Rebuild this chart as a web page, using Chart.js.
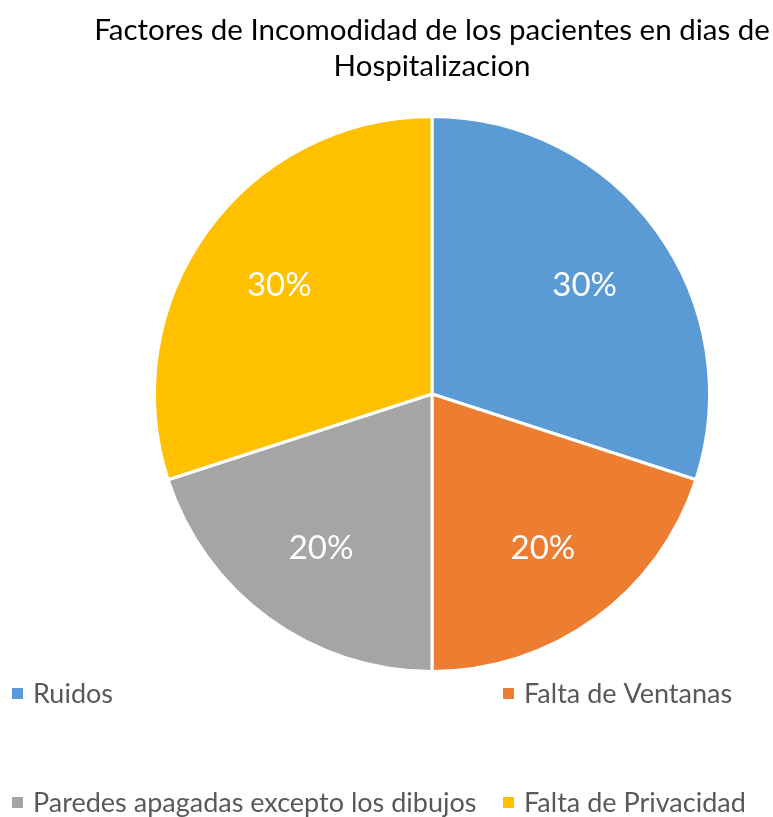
<!DOCTYPE html>
<html>
<head>
<meta charset="utf-8">
<script src="https://cdn.jsdelivr.net/npm/chart.js@4.4.1/dist/chart.umd.min.js"></script>
<style>
  html, body { margin: 0; padding: 0; background: #ffffff; }
  #wrap { position: relative; width: 773px; height: 817px; }
</style>
</head>
<body>
<div id="wrap"><canvas id="c" width="773" height="817"></canvas></div>
<script>
const categories = ["Ruidos", "Falta de Ventanas", "Paredes apagadas excepto los dibujos", "Falta de Privacidad"];
const percentValues = [30, 20, 20, 30];
const sliceColors = ["#5B9BD5", "#ED7D31", "#A5A5A5", "#FFC000"];
const titleLines = ["Factores de Incomodidad de los pacientes en dias de", "Hospitalizacion"];

const FONT = "Lato, 'Open Sans', sans-serif";

const sliceLabels = {
  id: "sliceLabels",
  afterDatasetsDraw(chart) {
    const ctx = chart.ctx;
    const meta = chart.getDatasetMeta(0);
    ctx.save();
    ctx.fillStyle = "#ffffff";
    ctx.font = "33px " + FONT;
    ctx.textAlign = "center";
    ctx.textBaseline = "middle";
    meta.data.forEach((arc, i) => {
      const p = arc.getProps(["x", "y", "startAngle", "endAngle", "outerRadius"], true);
      const a = (p.startAngle + p.endAngle) / 2;
      const r = p.outerRadius * 0.68;
      ctx.fillText(percentValues[i] + "%", p.x + Math.cos(a) * r, p.y + Math.sin(a) * r + 2);
    });
    ctx.restore();
  }
};

const gridLegend = {
  id: "gridLegend",
  afterDraw(chart) {
    const ctx = chart.ctx;
    const colX = [12, 503];
    const rowY = [694, 803];
    ctx.save();
    ctx.font = "27px " + FONT;
    ctx.textBaseline = "middle";
    ctx.textAlign = "left";
    categories.forEach((name, i) => {
      const x = colX[i % 2];
      const y = rowY[Math.floor(i / 2)];
      ctx.fillStyle = sliceColors[i];
      ctx.fillRect(x, y - 6, 11, 11);
      ctx.fillStyle = "#595959";
      ctx.fillText(name, x + 21, y);
    });
    ctx.restore();
  }
};

new Chart(document.getElementById("c"), {
  type: "pie",
  data: {
    labels: categories,
    datasets: [{
      data: percentValues,
      backgroundColor: sliceColors,
      borderColor: "#ffffff",
      borderWidth: 3
    }]
  },
  options: {
    responsive: false,
    animation: false,
    events: [],
    layout: { padding: { left: 91, right: 0, top: 0, bottom: 144 } },
    plugins: {
      legend: { display: false },
      tooltip: { enabled: false },
      title: {
        display: true,
        text: titleLines,
        color: "#000000",
        font: { family: FONT, size: 29.5, weight: "normal", lineHeight: 1.22 },
        padding: { top: 12, bottom: 31 }
      }
    }
  },
  plugins: [sliceLabels, gridLegend]
});
</script>
</body>
</html>
